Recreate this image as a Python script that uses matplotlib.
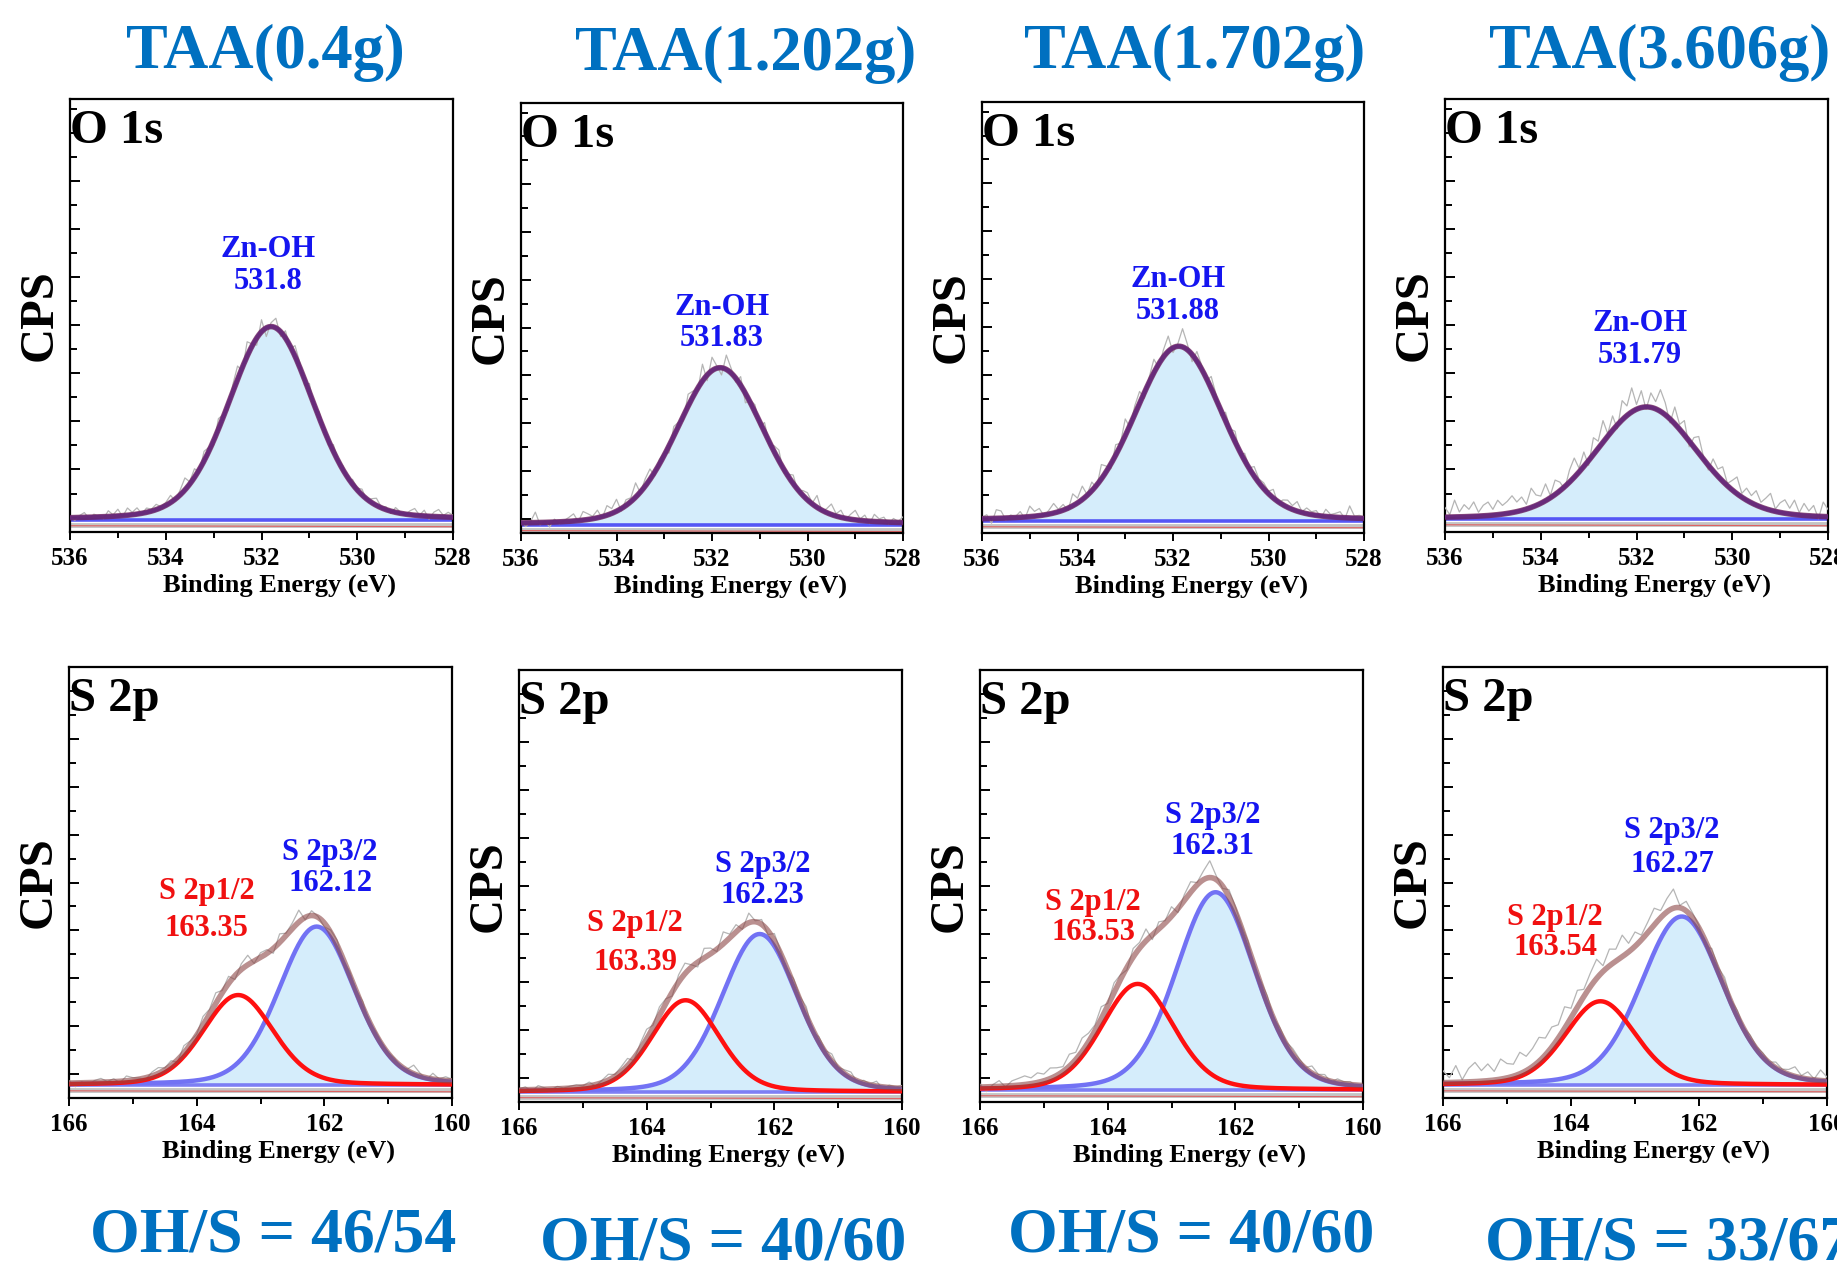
import matplotlib
matplotlib.use("Agg")
import matplotlib.pyplot as plt
import numpy as np
from matplotlib.ticker import MultipleLocator

plt.rcParams["font.family"] = ["Liberation Serif", "DejaVu Serif"]
plt.rcParams["font.weight"] = "bold"

# ---- data ----
TITLES = ["TAA(0.4g)", "TAA(1.202g)", "TAA(1.702g)", "TAA(3.606g)"]
RATIOS = ["46/54", "40/60", "40/60", "33/67"]

# O 1s, single Zn-OH component
O_CENTERS = [531.8, 531.83, 531.88, 531.79]
O_HEIGHTS = [4.02, 3.29, 3.65, 2.33]
O_FWHM = [2.1, 2.15, 2.2, 2.5]
O_BASE = [-0.05, -0.13, -0.05, -0.03]
O_LABEL_X = [531.87, 531.79, 531.9, 531.93]
O_LABEL_Y = [5.24, 4.1, 4.66, 3.7]

# S 2p doublet
S32_CENTERS = [162.12, 162.23, 162.31, 162.27]
S32_HEIGHTS = [3.31, 3.29, 4.12, 3.52]
S32_FWHM = [1.4, 1.4, 1.46, 1.5]
S12_CENTERS = [163.35, 163.39, 163.53, 163.54]
S12_HEIGHTS = [1.88, 1.91, 2.21, 1.75]
S12_FWHM = [1.3, 1.25, 1.33, 1.3]
S_BASE = [-0.23, -0.29, -0.25, -0.23]
S12_LABEL_X = [163.84, 164.18, 164.23, 164.25]
S12_LABEL_Y = [3.42, 2.81, 3.35, 2.96]
S32_LABEL_X = [161.91, 162.18, 162.36, 162.42]
S32_LABEL_Y = [4.31, 4.12, 5.15, 4.73]
S12_GAP = [1.35, 1.45, 1.05, 1.05]
S32_GAP = [1.1, 1.1, 1.1, 1.2]

# raw-spectrum residuals around the fit, 0.1 eV steps
O_NOISE = [
    [0.02, -0.06, 0.04, 0.10, -0.03, 0.06, 0.01, -0.04, 0.12, 0.03,
     0.14, -0.02, 0.15, 0.05, 0.13, -0.01, 0.09, 0.04, 0.11, 0.02,
     0.06, 0.15, -0.04, 0.10, 0.25, 0.05, 0.18, -0.06, 0.20, 0.08,
     -0.10, 0.22, 0.05, -0.12, 0.15, 0.28, -0.08, 0.30, 0.05, -0.15,
     0.25, -0.18, 0.08, 0.20, -0.10, 0.15, -0.05, 0.22, 0.10, -0.12,
     0.18, -0.08, 0.12, 0.05, -0.10, 0.14, 0.02, 0.08, -0.06, 0.10,
     0.04, 0.12, -0.03, 0.08, 0.15, 0.02, 0.06, -0.05, 0.10, 0.03,
     -0.02, 0.08, 0.14, 0.01, 0.12, -0.06, 0.09, 0.15, 0.03, 0.10, 0.04],
    [0.05, -0.08, 0.02, 0.22, -0.05, 0.03, -0.10, 0.06, -0.04, 0.02,
     0.08, 0.15, -0.02, 0.18, 0.12, 0.05, 0.16, -0.03, 0.20, 0.10,
     0.25, -0.05, 0.12, 0.08, 0.30, -0.02, 0.15, 0.22, -0.08, 0.10,
     0.05, -0.15, 0.20, 0.08, -0.10, 0.25, 0.12, -0.05, 0.35, -0.12,
     0.28, 0.05, -0.15, 0.30, 0.10, -0.08, 0.18, -0.20, 0.05, 0.15,
     -0.10, 0.20, -0.05, 0.12, 0.22, -0.08, 0.05, 0.18, -0.04, 0.10,
     0.15, 0.02, 0.25, -0.03, 0.08, 0.22, 0.05, 0.15, -0.02, 0.10,
     0.20, 0.03, 0.12, -0.05, 0.15, 0.06, 0.10, -0.04, 0.08, 0.02, 0.12],
    [0.03, 0.08, -0.10, 0.18, 0.15, -0.04, 0.06, 0.02, 0.12, -0.03,
     0.22, 0.10, 0.15, -0.02, 0.08, 0.20, 0.05, 0.12, -0.05, 0.25,
     0.10, 0.28, 0.02, 0.18, -0.06, 0.30, 0.12, -0.10, 0.22, 0.05,
     0.35, -0.05, 0.18, 0.25, -0.12, 0.10, 0.28, -0.08, 0.15, 0.32,
     -0.10, 0.05, 0.38, 0.12, -0.15, 0.20, 0.08, -0.05, 0.25, 0.10,
     -0.12, 0.18, 0.05, 0.22, -0.08, 0.15, 0.02, 0.20, 0.08, 0.12,
     0.05, 0.18, -0.04, 0.10, 0.15, 0.08, 0.20, 0.02, 0.12, 0.06,
     0.10, -0.03, 0.15, 0.05, 0.08, 0.12, -0.02, 0.25, 0.04, 0.06, 0.03],
    [0.20, 0.05, 0.35, 0.10, 0.25, 0.15, 0.30, 0.08, 0.22, 0.28,
     0.12, 0.30, 0.18, 0.25, 0.35, 0.20, 0.28, 0.10, 0.40, 0.22,
     0.15, 0.35, 0.05, 0.30, 0.18, -0.05, 0.25, 0.40, 0.08, 0.30,
     -0.10, 0.35, 0.15, 0.45, 0.05, 0.30, -0.08, 0.40, 0.20, 0.50,
     0.10, 0.35, -0.05, 0.30, 0.15, 0.45, 0.25, -0.08, 0.35, 0.10,
     0.30, -0.12, 0.20, 0.35, 0.05, -0.10, 0.25, 0.15, 0.30, 0.05,
     0.20, 0.35, 0.08, 0.25, 0.15, 0.30, 0.10, 0.22, 0.35, 0.05,
     0.20, 0.28, 0.12, 0.30, 0.05, 0.25, 0.10, 0.22, -0.05, 0.30, 0.15],
]
S_NOISE = [
    [0.05, -0.08, 0.02, -0.05, 0.04, 0.08, 0.01, 0.06, -0.03, 0.10,
     0.05, 0.02, -0.04, 0.08, 0.12, 0.04, 0.10, -0.05, 0.15, 0.08,
     0.02, 0.18, 0.10, 0.22, 0.05, 0.15, -0.08, 0.12, 0.20, -0.05,
     0.10, 0.08, -0.10, 0.18, 0.05, 0.12, 0.25, -0.05, 0.10, 0.02,
     -0.08, 0.05, 0.10, -0.04, 0.08, 0.02, 0.12, -0.03, 0.06, 0.04,
     0.02, 0.05, -0.02, 0.03, 0.18, 0.06, -0.04, 0.12, 0.02, 0.08, 0.04],
    [0.02, 0.06, -0.04, 0.08, 0.03, -0.02, 0.05, 0.01, 0.04, 0.06,
     0.02, 0.08, -0.03, 0.05, 0.12, 0.04, 0.10, 0.15, -0.05, 0.12,
     0.20, 0.05, 0.18, 0.10, -0.08, 0.15, 0.22, 0.05, -0.10, 0.20,
     0.12, -0.05, 0.25, 0.08, 0.15, -0.06, 0.20, 0.02, 0.10, -0.08,
     0.15, 0.05, -0.04, 0.12, 0.08, 0.18, -0.05, 0.10, 0.04, 0.15,
     0.02, 0.08, 0.12, -0.03, 0.06, 0.02, 0.10, -0.04, 0.05, 0.02, 0.06],
    [0.06, -0.10, 0.04, 0.12, -0.02, 0.10, 0.14, 0.18, 0.12, 0.20,
     0.14, 0.22, 0.16, 0.10, 0.25, 0.15, 0.28, 0.18, 0.12, 0.25,
     0.05, 0.20, 0.10, -0.05, 0.18, 0.12, 0.25, -0.10, 0.15, 0.05,
     0.20, -0.08, 0.12, 0.22, 0.05, 0.18, 0.35, 0.08, -0.05, 0.15,
     0.10, 0.05, 0.12, -0.06, 0.08, 0.15, 0.02, 0.10, 0.05, 0.12,
     0.08, 0.02, 0.15, 0.05, 0.10, -0.02, 0.08, 0.04, 0.06, -0.03, 0.02],
    [0.25, 0.10, 0.35, 0.05, 0.28, 0.40, 0.22, 0.35, 0.18, 0.42,
     0.30, 0.25, 0.45, 0.30, 0.38, 0.50, 0.35, 0.42, 0.28, 0.45,
     0.20, 0.35, 0.15, 0.28, 0.40, 0.12, 0.35, 0.25, 0.45, 0.18,
     0.30, 0.10, 0.22, 0.35, 0.15, 0.28, 0.40, 0.05, 0.20, 0.10,
     0.05, -0.12, 0.15, 0.08, 0.20, 0.05, 0.12, 0.02, 0.10, 0.05,
     0.08, 0.02, 0.12, 0.05, 0.10, 0.20, 0.05, 0.15, 0.02, 0.22, 0.08],
]

TITLE_BLUE = "#0070c0"
FILL_BLUE = "#d5edfb"
W, H = 1837, 1271

# axes boxes in pixels: left, right, top, bottom
TOP_BOXES = [(70, 453, 99, 532), (521, 903, 103, 533), (982, 1364, 102, 533), (1445, 1828, 99, 532)]
BOT_BOXES = [(69, 452, 667, 1098), (519, 902, 670, 1102), (980, 1363, 670, 1102), (1443, 1827, 667, 1098)]


def pseudo_voigt(x, center, height, fwhm, eta=0.2):
    u = (x - center) / fwhm
    gauss = np.exp(-4 * np.log(2) * u ** 2)
    lorentz = 1 / (1 + 4 * u ** 2)
    return height * ((1 - eta) * gauss + eta * lorentz)


def make_axes(fig, box):
    left, right, top, bottom = box
    return fig.add_axes([left / W, 1 - bottom / H, (right - left) / W, (bottom - top) / H])


def style_axes(axis, xlim, ylim, panel_name):
    axis.set_xlim(*xlim)
    axis.set_ylim(*ylim)
    for spine in axis.spines.values():
        spine.set_linewidth(1.6)
    axis.xaxis.set_major_locator(MultipleLocator(2))
    axis.xaxis.set_minor_locator(MultipleLocator(1))
    axis.yaxis.set_major_locator(MultipleLocator(1))
    axis.yaxis.set_minor_locator(MultipleLocator(0.5))
    axis.tick_params(axis="x", which="both", direction="out", top=False,
                     labelsize=18, pad=5, width=1.4)
    axis.tick_params(axis="x", which="major", length=6)
    axis.tick_params(axis="x", which="minor", length=4)
    axis.tick_params(axis="y", which="both", direction="in", right=False,
                     labelleft=False, width=1.4)
    axis.tick_params(axis="y", which="major", length=7)
    axis.tick_params(axis="y", which="minor", length=5)
    axis.set_xlabel("Binding Energy (eV)", fontsize=19, fontweight="bold")
    axis.xaxis.set_label_coords(0.548, -0.097)
    axis.set_ylabel("CPS", fontsize=35, fontweight="bold")
    axis.yaxis.label.set_va("center")
    axis.yaxis.set_label_coords(-0.08, 0.5)
    axis.text(0.0, 0.976, panel_name, transform=axis.transAxes, ha="left", va="top",
              fontsize=35, fontweight="bold", color="black")


def draw_backgrounds(axis, xlim, base, blue):
    axis.plot(xlim, [base - 0.1, base - 0.1], color="#c4c4c4", linewidth=3.5, zorder=2)
    axis.plot(xlim, [base - 0.12, base - 0.14], color="#e06060", linewidth=0.8, zorder=2)
    axis.plot(xlim, [base, base], color=blue, linewidth=2.6, alpha=0.9, zorder=2.5)


fig = plt.figure(figsize=(W / 100, H / 100), dpi=100)

# ---- O 1s row ----
for i in range(4):
    axis = make_axes(fig, TOP_BOXES[i])
    xlim = (536, 528)
    fine_x = np.linspace(536, 528, 400)
    raw_x = np.linspace(536, 528, len(O_NOISE[i]))
    base = O_BASE[i]
    component = base + pseudo_voigt(fine_x, O_CENTERS[i], O_HEIGHTS[i], O_FWHM[i])
    raw = base + pseudo_voigt(raw_x, O_CENTERS[i], O_HEIGHTS[i], O_FWHM[i]) + np.array(O_NOISE[i])

    axis.fill_between(fine_x, base, component, color=FILL_BLUE, linewidth=0, zorder=1)
    draw_backgrounds(axis, xlim, base, "#4646f5")
    axis.plot(raw_x, raw, color="#b5b5b5", linewidth=0.9, zorder=3)
    axis.plot(fine_x, component, color="#4646f5", linewidth=3.0, alpha=0.9, zorder=4)
    axis.plot(fine_x, component, color="#6e1f58", linewidth=4.0, alpha=0.78, zorder=5)

    axis.text(O_LABEL_X[i], O_LABEL_Y[i], f"Zn-OH\n{O_CENTERS[i]}", ha="center", va="center",
              color="#1515f0", fontsize=22, fontweight="bold", linespacing=1.1, zorder=6)
    style_axes(axis, xlim, (-0.3, 8.7), "O 1s")

# ---- S 2p row ----
for i in range(4):
    axis = make_axes(fig, BOT_BOXES[i])
    xlim = (166, 160)
    fine_x = np.linspace(166, 160, 400)
    raw_x = np.linspace(166, 160, len(S_NOISE[i]))
    base = S_BASE[i]
    p32 = pseudo_voigt(fine_x, S32_CENTERS[i], S32_HEIGHTS[i], S32_FWHM[i])
    p12 = pseudo_voigt(fine_x, S12_CENTERS[i], S12_HEIGHTS[i], S12_FWHM[i])
    envelope = base + p32 + p12
    raw = (base + pseudo_voigt(raw_x, S32_CENTERS[i], S32_HEIGHTS[i], S32_FWHM[i])
           + pseudo_voigt(raw_x, S12_CENTERS[i], S12_HEIGHTS[i], S12_FWHM[i])
           + np.array(S_NOISE[i]))

    axis.fill_between(fine_x, base, base + p32, color=FILL_BLUE, linewidth=0, zorder=1)
    draw_backgrounds(axis, xlim, base, "#7272f4")
    axis.plot(raw_x, raw, color="#b5b5b5", linewidth=0.9, zorder=3)
    axis.plot(fine_x, base + p32, color="#7272f4", linewidth=3.2, zorder=4)
    axis.plot(fine_x, base + p12, color="#ff1010", linewidth=3.2, zorder=4)
    axis.plot(fine_x, envelope, color="#8c4646", linewidth=4.0, alpha=0.6, zorder=5)

    axis.text(S12_LABEL_X[i], S12_LABEL_Y[i], f"S 2p1/2\n{S12_CENTERS[i]:.2f}", ha="center", va="center",
              color="#f01010", fontsize=22, fontweight="bold", linespacing=S12_GAP[i], zorder=6)
    axis.text(S32_LABEL_X[i], S32_LABEL_Y[i], f"S 2p3/2\n{S32_CENTERS[i]:.2f}", ha="center", va="center",
              color="#1515f0", fontsize=22, fontweight="bold", linespacing=S32_GAP[i], zorder=6)
    style_axes(axis, xlim, (-0.5, 8.5), "S 2p")

# ---- column titles and ratios ----
TITLE_X = [265, 746, 1195, 1660]
TITLE_BASELINE = [68, 70, 68, 68]
RATIO_X = [273, 723, 1191, 1668]
RATIO_BASELINE = [1251, 1259, 1252, 1259]
for i in range(4):
    fig.text(TITLE_X[i] / W, 1 - TITLE_BASELINE[i] / H, TITLES[i], ha="center", va="baseline",
             fontsize=45, fontweight="bold", color=TITLE_BLUE)
    fig.text(RATIO_X[i] / W, 1 - RATIO_BASELINE[i] / H, f"OH/S = {RATIOS[i]}", ha="center",
             va="baseline", fontsize=46, fontweight="bold", color=TITLE_BLUE)

fig.savefig("out.png", dpi=100)
